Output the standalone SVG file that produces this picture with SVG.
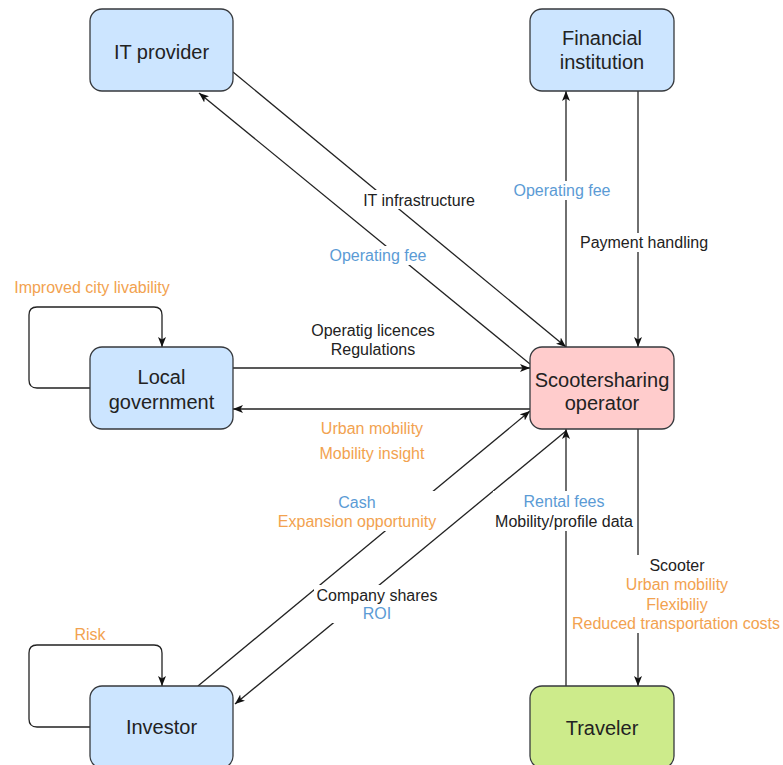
<svg xmlns="http://www.w3.org/2000/svg" width="783" height="765" viewBox="0 0 783 765">
<style>
.node rect{stroke:#36393d;stroke-width:1.3}
.blue rect{fill:#cce5ff}
.nt{font-family:"Liberation Sans",Arial,sans-serif;font-size:20px;text-anchor:middle;fill:#222}
.lb{font-family:"Liberation Sans",Arial,sans-serif;font-size:16px;text-anchor:middle}
.k{fill:#222}
.b{fill:#5b9bd5}
.o{fill:#f2a24f}
.bg{fill:#ffffff}
#connectors path{fill:none;stroke:#222;stroke-width:1.3}
</style>
<defs>
<marker id="arr" viewBox="0 0 10 8" refX="10" refY="4" markerWidth="10" markerHeight="8" markerUnits="userSpaceOnUse" orient="auto">
<path d="M0,0 L10,4 L0,8 L2.5,4 z" fill="#111"/>
</marker>
</defs>
<rect width="783" height="765" fill="#ffffff"/>
<g id="connectors">
<path d="M233,72 L566,347" marker-end="url(#arr)"/>
<path d="M530,364 L199,93" marker-end="url(#arr)"/>
<path d="M566,347 L566,91" marker-end="url(#arr)"/>
<path d="M638,91 L638,347" marker-end="url(#arr)"/>
<path d="M233,368 L530,368" marker-end="url(#arr)"/>
<path d="M530,409 L233,409" marker-end="url(#arr)"/>
<path d="M90,388 H37 Q29,388 29,380 V315 Q29,307 37,307 H154 Q162,307 162,315 V347" marker-end="url(#arr)"/>
<path d="M198,686 L530,411" marker-end="url(#arr)"/>
<path d="M566,431 L235,704" marker-end="url(#arr)"/>
<path d="M90,727 H37 Q29,727 29,719 V653 Q29,645 37,645 H154 Q162,645 162,653 V686" marker-end="url(#arr)"/>
<path d="M566,686 L566,429" marker-end="url(#arr)"/>
<path d="M638,429 L638,686" marker-end="url(#arr)"/>
<!-- label backgrounds -->
<rect class="bg" x="361" y="190" width="116" height="19"/>
<rect class="bg" x="327" y="246" width="102" height="19"/>
<rect class="bg" x="512" y="181" width="101" height="19"/>
<rect class="bg" x="579" y="233" width="132" height="19"/>
<rect class="bg" x="276" y="491" width="164" height="40"/>
<rect class="bg" x="314" y="585" width="126" height="38"/>
<rect class="bg" x="493" y="491" width="142" height="40"/>
<rect class="bg" x="570" y="555" width="213" height="78"/>
<!-- labels -->
<text class="lb k" x="419" y="205.5">IT infrastructure</text>
<text class="lb b" x="378" y="260.5">Operating fee</text>
<text class="lb b" x="562" y="195.5">Operating fee</text>
<text class="lb k" x="644" y="247.5">Payment handling</text>
<text class="lb k" x="373" y="335.5">Operatig licences</text>
<text class="lb k" x="373" y="354.5">Regulations</text>
<text class="lb o" x="372" y="433.5">Urban mobility</text>
<text class="lb o" x="372" y="458.5">Mobility insight</text>
<text class="lb o" x="92" y="292.5">Improved city livability</text>
<text class="lb b" x="357" y="507.5">Cash</text>
<text class="lb o" x="357" y="526.5">Expansion opportunity</text>
<text class="lb k" x="377" y="600.5">Company shares</text>
<text class="lb b" x="377" y="618.5">ROI</text>
<text class="lb o" x="90" y="639.5">Risk</text>
<text class="lb b" x="564" y="506.5">Rental fees</text>
<text class="lb k" x="564" y="526.5">Mobility/profile data</text>
<text class="lb k" x="677" y="570.5">Scooter</text>
<text class="lb o" x="677" y="589.5">Urban mobility</text>
<text class="lb o" x="677" y="609.5">Flexibiliy</text>
<text class="lb o" x="676" y="628.5">Reduced transportation costs</text>
</g>
<g id="it-provider" class="node blue">
<rect x="90" y="9" width="143" height="82" rx="12"/>
<text class="nt" x="161.5" y="59">IT provider</text>
</g>
<g id="financial-institution" class="node blue">
<rect x="530" y="9" width="144" height="82" rx="12"/>
<text class="nt" x="602" y="45">Financial</text>
<text class="nt" x="602" y="69">institution</text>
</g>
<g id="local-government" class="node blue">
<rect x="90" y="347" width="143" height="82" rx="12"/>
<text class="nt" x="161.5" y="384">Local</text>
<text class="nt" x="161.5" y="409">government</text>
</g>
<g id="scootersharing-operator" class="node">
<rect x="530" y="347" width="144" height="82" rx="12" fill="#ffcccc"/>
<text class="nt" x="602" y="387" fill="#3a2222">Scootersharing</text>
<text class="nt" x="602" y="410" fill="#3a2222">operator</text>
</g>
<g id="investor" class="node blue">
<rect x="90" y="686" width="143" height="82" rx="12"/>
<text class="nt" x="161.5" y="734">Investor</text>
</g>
<g id="traveler" class="node">
<rect x="530" y="686" width="144" height="82" rx="12" fill="#cdeb8b"/>
<text class="nt" x="602" y="735" fill="#2a3a14">Traveler</text>
</g>
</svg>
